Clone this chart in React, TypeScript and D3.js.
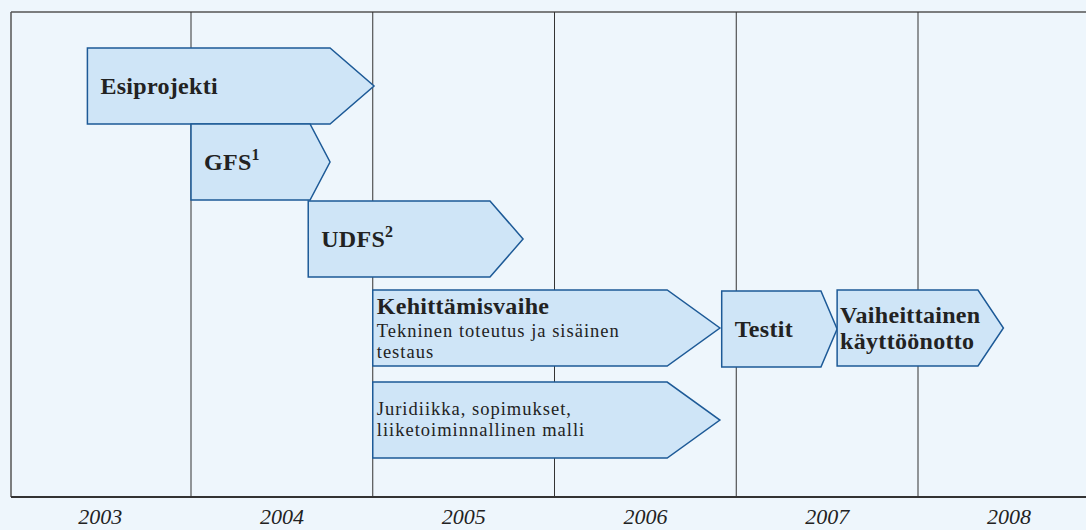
import React, { useEffect, useRef } from 'react';
import * as d3 from 'd3';

// years shown under the grid
const years = [2003, 2004, 2005, 2006, 2007, 2008];
// grid lines at year boundaries
const yearBreaks = [2004, 2005, 2006, 2007, 2008];

// phases: start, end of body, tip (fractional years) and lane (row top, in lane units)
const phaseNames = ['Esiprojekti', 'GFS', 'UDFS', 'Kehittämisvaihe', 'Juridiikka', 'Testit', 'Vaiheittainen'];
const phaseStart = [2003.43, 2004.0, 2004.645, 2005.0, 2005.0, 2006.92, 2007.555];
const phaseBody = [2004.765, 2004.655, 2005.645, 2006.62, 2006.62, 2007.466, 2008.33];
const phaseTip = [2005.007, 2004.765, 2005.827, 2006.91, 2006.91, 2007.555, 2008.47];
const phaseLane = [0, 1, 2.013, 3.184, 4.395, 3.197, 3.184];

// texts in each phase
const titleLines = [['Esiprojekti'], ['GFS'], ['UDFS'], ['Kehittämisvaihe'], [], ['Testit'], ['Vaiheittainen', 'käyttöönotto']];
const titleSup = ['', '1', '2', '', '', '', ''];
const subLines = [[], [], [], ['Tekninen toteutus ja sisäinen', 'testaus'], ['Juridiikka, sopimukset,', 'liiketoiminnallinen malli'], [], []];

const W = 1086;
const H = 530;
const FONT = '"Liberation Serif", "DejaVu Serif", serif';

const drawChart = (svgEl: SVGSVGElement) => {
	const svg = d3.select(svgEl);
	svg.selectAll('*').remove();

	const x = d3.scaleLinear().domain([2004, 2008]).range([191, 918]);
	const y = d3.scaleLinear().domain([0, 1]).range([48, 124]);
	const top = 12;
	const bottom = 497;

	svg.append('rect').attr('width', W).attr('height', H).attr('fill', '#eef6fc');

	// frame
	svg.append('line').attr('x1', 11).attr('x2', W).attr('y1', top).attr('y2', top)
		.attr('stroke', '#555').attr('stroke-width', 1.5);
	svg.append('line').attr('x1', 11).attr('x2', 11).attr('y1', top).attr('y2', bottom)
		.attr('stroke', '#555').attr('stroke-width', 1.5);

	svg.append('g').selectAll('line').data(yearBreaks)
		.enter()
		.append('line')
		.attr('x1', (d) => x(d)).attr('x2', (d) => x(d))
		.attr('y1', top).attr('y2', bottom)
		.attr('stroke', '#333').attr('stroke-width', 1);

	svg.append('line').attr('x1', 11).attr('x2', W).attr('y1', bottom).attr('y2', bottom)
		.attr('stroke', '#333').attr('stroke-width', 2);

	// year labels (condensed italic)
	svg.append('g').selectAll('text').data(years)
		.enter()
		.append('text')
		.attr('x', (d) => x(d + 0.5) - 22)
		.attr('y', 524)
		.attr('font-family', FONT)
		.attr('font-style', 'italic')
		.attr('font-size', 21)
		.attr('textLength', 44)
		.attr('lengthAdjust', 'spacingAndGlyphs')
		.attr('fill', '#222')
		.text((d) => d);

	// arrows
	const idx = d3.range(phaseNames.length);
	const g = svg.append('g');
	g.selectAll('path').data(idx)
		.enter()
		.append('path')
		.attr('d', (i) => {
			const y0 = y(phaseLane[i]);
			const y1 = y(phaseLane[i] + 1);
			const p = d3.path();
			p.moveTo(x(phaseStart[i]), y0);
			p.lineTo(x(phaseBody[i]), y0);
			p.lineTo(x(phaseTip[i]), (y0 + y1) / 2);
			p.lineTo(x(phaseBody[i]), y1);
			p.lineTo(x(phaseStart[i]), y1);
			p.closePath();
			return p.toString();
		})
		.attr('fill', '#cfe5f7')
		.attr('stroke', '#1d5a97')
		.attr('stroke-width', 1.5);

	// labels
	const bold = (t) => t.attr('font-family', FONT).attr('font-weight', 'bold')
		.attr('font-size', 24).attr('letter-spacing', 0.3).attr('fill', '#222');
	const plain = (t) => t.attr('font-family', FONT).attr('font-size', 18.5)
		.attr('letter-spacing', 1).attr('fill', '#222');

	idx.forEach((i) => {
		const x0 = x(phaseStart[i]);
		const y0 = y(phaseLane[i]);
		const yMid = y(phaseLane[i] + 0.5);
		const titles = titleLines[i];
		const subs = subLines[i];
		const pad = subs.length ? 4 : (titles.length > 1 ? 3 : 13);
		if (subs.length && titles.length) {
			bold(g.append('text').attr('x', x0 + pad).attr('y', y0 + 24)).text(titles[0]);
			subs.forEach((s, k) => {
				plain(g.append('text').attr('x', x0 + pad).attr('y', y0 + 47 + k * 21)).text(s);
			});
		} else if (subs.length) {
			subs.forEach((s, k) => {
				plain(g.append('text').attr('x', x0 + pad).attr('y', yMid - 5 + k * 21)).text(s);
			});
		} else {
			const n = titles.length;
			titles.forEach((s, k) => {
				const t = bold(g.append('text').attr('x', x0 + pad)
					.attr('y', yMid + 8 + (k - (n - 1) / 2) * 26));
				t.append('tspan').text(s);
				if (titleSup[i]) {
					t.append('tspan').attr('font-size', 16).attr('dy', -10).text(titleSup[i]);
				}
			});
		}
	});
};

const App = () => {
	const ref = useRef<SVGSVGElement>(null);
	useEffect(() => {
		if (ref.current) drawChart(ref.current);
	}, []);
	return (
		<svg ref={ ref } width={ W } height={ H }
			style={ { position: 'absolute', left: 0, top: 0, display: 'block' } }/>
	);
};

export default App;
